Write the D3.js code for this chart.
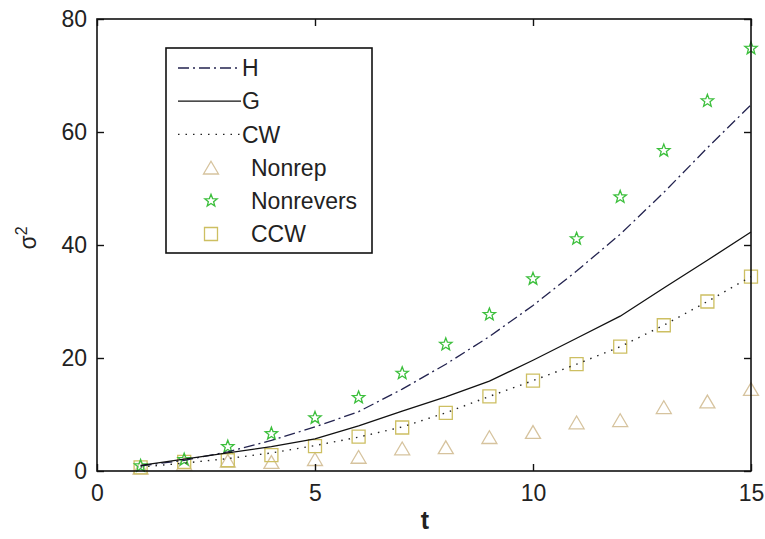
<!DOCTYPE html>
<html>
<head>
<meta charset="utf-8">
<script src="https://cdn.jsdelivr.net/npm/d3@7"></script>
<style>
  html, body { margin: 0; padding: 0; background: #fff; }
  svg { display: block; }
  text { font-family: "Liberation Sans", Arial, sans-serif; fill: #222; }
</style>
</head>
<body>
<svg id="chart" width="765" height="539"></svg>
<script>
// Time steps
const tValues = [1, 2, 3, 4, 5, 6, 7, 8, 9, 10, 11, 12, 13, 14, 15];

// Model curves
const hValues  = [0.9, 1.9, 3.4, 5.4, 7.8, 10.5, 14.5, 18.9, 23.8, 29.3, 35.4, 41.9, 49.3, 57.2, 64.8];
const gValues  = [1.0, 2.1, 3.2, 4.3, 5.7, 8.0, 10.6, 13.1, 15.9, 19.6, 23.5, 27.4, 32.4, 37.3, 42.3];
const cwValues = [0.7, 1.4, 2.2, 3.2, 4.5, 6.0, 7.8, 10.3, 13.2, 16.0, 18.9, 22.0, 25.8, 30.0, 34.4];

// Simulated walks
const nonrepValues    = [0.6, 1.3, 1.8, 1.6, 2.1, 2.5, 4.0, 4.2, 6.0, 6.9, 8.6, 9.0, 11.3, 12.3, 14.5];
const nonreversValues = [0.9, 2.0, 4.3, 6.6, 9.4, 13.0, 17.3, 22.4, 27.7, 34.0, 41.1, 48.5, 56.7, 65.5, 74.8];
const ccwValues       = [0.65, 1.6, 1.9, 2.8, 4.4, 6.1, 7.7, 10.3, 13.2, 16.0, 18.9, 22.0, 25.8, 30.0, 34.4];

// Axis ticks
const xTicks = [0, 5, 10, 15];
const yTicks = [0, 20, 40, 60, 80];

const legendLabels = ["H", "G", "CW", "Nonrep", "Nonrevers", "CCW"];

const svg = d3.select("#chart");
const plot = { left: 97, right: 751, top: 19, bottom: 471 };

const x = d3.scaleLinear().domain([0, 15]).range([plot.left, plot.right]);
const y = d3.scaleLinear().domain([0, 80]).range([plot.bottom, plot.top]);

const colors = {
  h: "#23234f",
  g: "#111111",
  cw: "#222222",
  nonrep: "#d6c39e",
  nonrevers: "#3cbf3c",
  ccw: "#cdbf62"
};

// Marker shapes
function starPath(r) {
  const inner = r * 0.42;
  const pts = [];
  for (let i = 0; i < 10; i++) {
    const rad = i % 2 === 0 ? r : inner;
    const a = -Math.PI / 2 + i * Math.PI / 5;
    pts.push([rad * Math.cos(a), rad * Math.sin(a)]);
  }
  return "M" + pts.map(p => p[0].toFixed(2) + "," + p[1].toFixed(2)).join("L") + "Z";
}
function trianglePath(w) {
  const h = w * 0.85;
  return `M0,${-h / 2}L${w / 2},${h / 2}L${-w / 2},${h / 2}Z`;
}
function squarePath(s) {
  const a = s / 2;
  return `M${-a},${-a}H${a}V${a}H${-a}Z`;
}
const markerDefs = {
  nonrep: { d: trianglePath(15), color: colors.nonrep },
  nonrevers: { d: starPath(6.5), color: colors.nonrevers },
  ccw: { d: squarePath(13), color: colors.ccw }
};

// Scatter markers
function drawMarkers(values, key) {
  const m = markerDefs[key];
  svg.append("g").selectAll("path")
    .data(tValues.map((t, i) => ({ t, v: values[i] })))
    .join("path")
    .attr("transform", d => `translate(${x(d.t)},${y(d.v)})`)
    .attr("d", m.d)
    .attr("fill", "none")
    .attr("stroke", m.color)
    .attr("stroke-width", 1.3);
}
drawMarkers(nonrepValues, "nonrep");
drawMarkers(ccwValues, "ccw");
drawMarkers(nonreversValues, "nonrevers");

// Model lines
const line = d3.line().x(d => x(d.t)).y(d => y(d.v));
function drawLine(values, color, dash, width) {
  svg.append("path")
    .datum(tValues.map((t, i) => ({ t, v: values[i] })))
    .attr("d", line)
    .attr("fill", "none")
    .attr("stroke", color)
    .attr("stroke-width", width)
    .attr("stroke-dasharray", dash);
}
const hDash = "11,4,2,4";
const cwDash = "1.5,6";
drawLine(hValues, colors.h, hDash, 1.3);
drawLine(gValues, colors.g, null, 1.3);
drawLine(cwValues, colors.cw, cwDash, 1.4);

// Axes box with inward ticks on all sides
const axisStyle = g => {
  g.select(".domain").remove();
  g.selectAll(".tick line").attr("stroke", "#111").attr("stroke-width", 1.4);
  g.selectAll("text").style("font-family", "'Liberation Sans', Arial, sans-serif")
    .style("font-size", "23px").attr("fill", "#2a2a2a");
};

svg.append("g").attr("transform", `translate(0,${plot.bottom})`)
  .call(d3.axisBottom(x).tickValues(xTicks).tickSize(-7).tickPadding(9).tickFormat(d3.format("d")))
  .call(axisStyle)
  .call(g => g.selectAll("text").attr("dy", "0.92em"));

svg.append("g").attr("transform", `translate(0,${plot.top})`)
  .call(d3.axisTop(x).tickValues(xTicks).tickSize(-7).tickFormat(""))
  .call(axisStyle);

svg.append("g").attr("transform", `translate(${plot.left},0)`)
  .call(d3.axisLeft(y).tickValues(yTicks).tickSize(-7).tickPadding(10).tickFormat(d3.format("d")))
  .call(axisStyle);

svg.append("g").attr("transform", `translate(${plot.right},0)`)
  .call(d3.axisRight(y).tickValues(yTicks).tickSize(-7).tickFormat(""))
  .call(axisStyle);

svg.append("rect")
  .attr("x", plot.left).attr("y", plot.top)
  .attr("width", plot.right - plot.left).attr("height", plot.bottom - plot.top)
  .attr("fill", "none").attr("stroke", "#111").attr("stroke-width", 1.6);

// Axis titles
svg.append("text")
  .attr("x", (plot.left + plot.right) / 2 + 1).attr("y", 529)
  .attr("text-anchor", "middle")
  .style("font-size", "25px").style("font-weight", "bold")
  .text("t");

const yTitle = svg.append("text")
  .attr("transform", "translate(36,238) rotate(-90)")
  .attr("text-anchor", "middle")
  .style("font-size", "23px");
yTitle.append("tspan").text("σ");
yTitle.append("tspan").attr("dy", "-0.55em").style("font-size", "16px").text("2");

// Legend
const legend = svg.append("g");
legend.append("rect")
  .attr("x", 166).attr("y", 48).attr("width", 206).attr("height", 205)
  .attr("fill", "#fff").attr("stroke", "#111").attr("stroke-width", 1.6);

const rowY = i => 68 + i * 33.2;
const lineRows = [
  { color: colors.h, dash: hDash },
  { color: colors.g, dash: null },
  { color: colors.cw, dash: cwDash }
];
lineRows.forEach((r, i) => {
  legend.append("line")
    .attr("x1", 178).attr("x2", 241).attr("y1", rowY(i)).attr("y2", rowY(i))
    .attr("stroke", r.color).attr("stroke-width", 1.3).attr("stroke-dasharray", r.dash);
  legend.append("text")
    .attr("x", 242).attr("y", rowY(i)).attr("dy", "0.36em")
    .style("font-size", "23px").text(legendLabels[i]);
});
["nonrep", "nonrevers", "ccw"].forEach((k, j) => {
  const i = j + 3;
  legend.append("path")
    .attr("transform", `translate(211,${rowY(i)})`)
    .attr("d", markerDefs[k].d)
    .attr("fill", "none").attr("stroke", markerDefs[k].color).attr("stroke-width", 1.3);
  legend.append("text")
    .attr("x", 251).attr("y", rowY(i)).attr("dy", "0.36em")
    .style("font-size", "23px").text(legendLabels[i]);
});
</script>
</body>
</html>
